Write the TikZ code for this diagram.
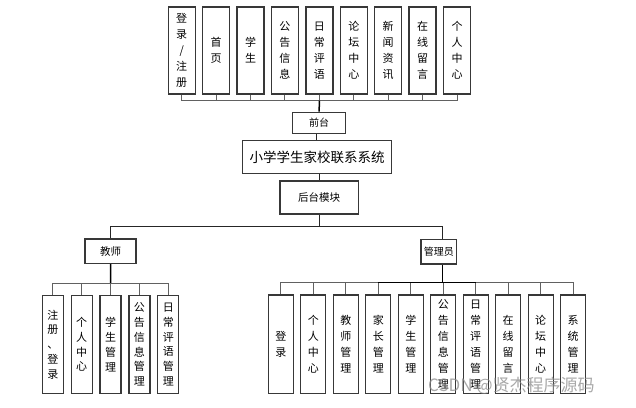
\documentclass[tikz,border=0pt]{standalone}
\usepackage{fontspec}
\setmainfont{Noto Sans CJK SC}
\begin{document}
\begin{tikzpicture}[x=1pt,y=-1pt,
  box/.style={draw=black!78,line width=1.3pt,fill=white,inner sep=0pt,align=center},
  topbox/.style={box,minimum width=27pt,minimum height=87pt,font=\fontsize{11}{16}\selectfont},
  tchbox/.style={box,minimum width=21pt,minimum height=97.6pt,font=\fontsize{11}{14.8}\selectfont},
  admbox/.style={box,minimum width=25pt,minimum height=98.3pt,font=\fontsize{11}{16}\selectfont},
  thin/.style={draw=black!62,line width=1pt},
  thick/.style={draw=black,line width=1.5pt},
  mid/.style={draw=black!85,line width=1pt}]
\useasboundingbox (0,0) rectangle (636,407);
\fill[white] (0,0) rectangle (636,407);

% top row
\foreach \t [count=\i from 0] in {登\\录\\/\\注\\册, 首\\页, 学\\生, 公\\告\\信\\息, 日\\常\\评\\语, 论\\坛\\中\\心, 新\\闻\\资\\讯, 在\\线\\留\\言, 个\\人\\中\\心}{
  \node[topbox] (t\i) at ({181.7+34.42*\i},50.5) {\t};
}
\node[box,minimum width=53pt,minimum height=21pt,font=\fontsize{10}{12}\selectfont] (front) at (319.2,122.8) {前台};
\node[box,minimum width=149.4pt,minimum height=32.6pt,font=\fontsize{13.5}{16}\selectfont] (main) at (317,157) {小学学生家校联系系统};
\node[box,minimum width=78.3pt,minimum height=33pt,font=\fontsize{10.5}{12}\selectfont] (back) at (319.2,197.5) {后台模块};
\node[box,minimum width=51pt,minimum height=24.3pt,font=\fontsize{10.5}{12}\selectfont] (teacher) at (110.5,251.2) {教师};
\node[box,minimum width=35.7pt,minimum height=24.7pt,font=\fontsize{10}{12}\selectfont] (admin) at (438.8,251.7) {管理员};

% teacher children
\foreach \t [count=\i from 0] in {注\\册\\、\\登\\录, 个\\人\\中\\心, 学\\生\\管\\理, 公\\告\\信\\息\\管\\理, 日\\常\\评\\语\\管\\理}{
  \node[tchbox] (c\i) at ({52.8+28.87*\i},344.5) {\t};
}
% admin children
\foreach \t [count=\i from 0] in {登\\录, 个\\人\\中\\心, 教\\师\\管\\理, 家\\长\\管\\理, 学\\生\\管\\理, 公\\告\\信\\息\\管\\理, 日\\常\\评\\语\\管\\理, 在\\线\\留\\言, 论\\坛\\中\\心, 系\\统\\管\\理}{
  \node[admbox] (a\i) at ({280.8+32.49*\i},344.2) {\t};
}

% top bus
\coordinate (topbus) at (319.3,100.7);
\foreach \i in {0,...,8}{ \draw[thin] (t\i.south) -- (t\i.south |- topbus); }
\draw[thin] (t0.south |- topbus) -- (t8.south |- topbus);
\draw[thick] (topbus) -- (front.north);
\draw[mid] ([xshift=-2.5pt]front.south) -- ([xshift=-2.5pt]front.south |- main.north);
\draw[mid] (back.north -| 319.2,0) -- (back.north);
\draw[mid] (main.south -| back.north) -- (back.north);

% back to teacher / admin
\coordinate (split) at (319.2,226);
\coordinate (admtop) at (442.7,226);
\draw[mid] (back.south) -- (split);
\draw[mid] (teacher.north) -- (teacher.north |- split) -- (admtop) -- ([xshift=3.9pt]admin.north);

% teacher bus
\coordinate (tbus) at (110.7,283);
\draw[thick] (teacher.south) -- (tbus);
\foreach \i in {0,...,4}{ \draw[thin] (c\i.north) -- (c\i.north |- tbus); }
\draw[thin] (c0.north |- tbus) -- (c4.north |- tbus);
\draw[thick] (teacher.south) -- (teacher.south |- tbus);

% admin bus
\coordinate (abus) at (442.7,282.3);
\foreach \i in {0,...,9}{ \draw[thin] (a\i.north) -- (a\i.north |- abus); }
\draw[thin] (a0.north |- abus) -- (a9.north |- abus);
\draw[thick] ([xshift=3.9pt]admin.south) -- (abus);
\draw[thick] (a3.north |- abus) -- (a6.north |- abus);

% watermark
\node[text=black!45,opacity=0.75,font=\fontsize{17}{20}\selectfont,inner sep=0pt,anchor=west] (wm) at (428,386) {CSDN @贤杰程序源码};
\end{tikzpicture}
\end{document}
